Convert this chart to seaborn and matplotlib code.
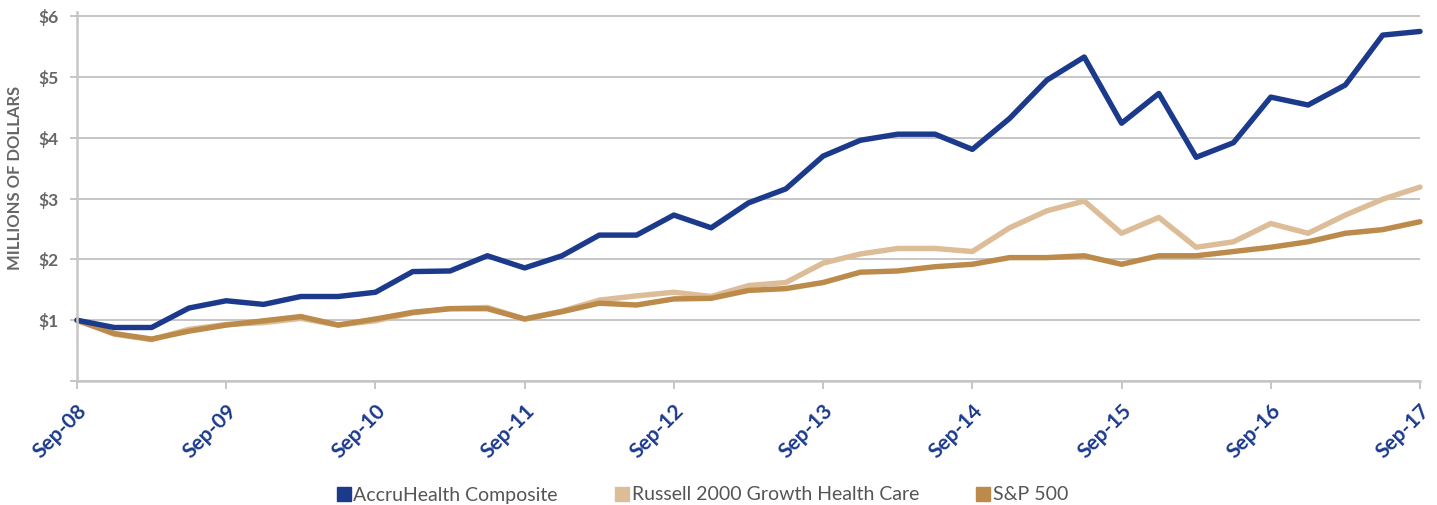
import numpy as np
import pandas as pd
import matplotlib
matplotlib.use("Agg")
import matplotlib.pyplot as plt
from matplotlib.lines import Line2D
import seaborn as sns

# Growth of $1 million, quarterly from Sep-08 to Sep-17 (values in $ millions)
tick_labels = ["Sep-08", "Sep-09", "Sep-10", "Sep-11", "Sep-12",
               "Sep-13", "Sep-14", "Sep-15", "Sep-16", "Sep-17"]
series_names = ["AccruHealth Composite", "Russell 2000 Growth Health Care", "S&P 500"]

accruhealth = [1.00, 0.88, 0.88, 1.20, 1.32, 1.26, 1.39, 1.39, 1.46, 1.80,
               1.81, 2.06, 1.86, 2.06, 2.40, 2.40, 2.73, 2.52, 2.93, 3.16,
               3.70, 3.96, 4.06, 4.06, 3.81, 4.32, 4.95, 5.33, 4.24, 4.73,
               3.68, 3.92, 4.67, 4.54, 4.87, 5.69, 5.75]
russell = [1.00, 0.77, 0.68, 0.85, 0.93, 0.96, 1.03, 0.92, 0.99, 1.12,
           1.19, 1.21, 1.02, 1.15, 1.33, 1.40, 1.46, 1.39, 1.57, 1.62,
           1.94, 2.09, 2.18, 2.18, 2.13, 2.52, 2.80, 2.96, 2.43, 2.69,
           2.20, 2.29, 2.59, 2.43, 2.73, 2.99, 3.19]
sp500 = [1.00, 0.78, 0.69, 0.82, 0.92, 0.99, 1.06, 0.92, 1.02, 1.13,
         1.19, 1.19, 1.02, 1.14, 1.28, 1.25, 1.35, 1.36, 1.49, 1.52,
         1.62, 1.79, 1.81, 1.88, 1.92, 2.03, 2.03, 2.06, 1.92, 2.06,
         2.06, 2.13, 2.20, 2.29, 2.43, 2.49, 2.62]

colors = ["#1C3A8C", "#DCBD98", "#BC8A4A"]
grid_gray = "#C6C6C6"
text_gray = "#666666"
navy = "#1C3A8C"

quarter = np.arange(len(accruhealth))
df = pd.DataFrame({
    "quarter": np.tile(quarter, 3),
    "value": accruhealth + russell + sp500,
    "series": np.repeat(series_names, len(quarter)),
})

sns.set_theme(style="white")
plt.rcParams["font.family"] = ["Lato", "DejaVu Sans"]

fig = plt.figure(figsize=(14.37, 5.05), dpi=100)
ax = fig.add_axes([77 / 1437, 124 / 505, 1343 / 1437, 369 / 505])

sns.lineplot(data=df, x="quarter", y="value", hue="series", hue_order=series_names,
             palette=colors, linewidth=3.9, legend=False, ax=ax)

# Blue composite on top, S&P over Russell
for line, z in zip(ax.lines, [2.3, 2.1, 2.2]):
    line.set_zorder(z)
    line.set_solid_capstyle("round")
    line.set_solid_joinstyle("round")
    line.set_clip_on(False)

ax.set_xlim(0, 36)
ax.set_ylim(0, 6.07)

ax.set_yticks(range(0, 7))
ax.set_yticklabels([""] + [f"\\${v}" for v in range(1, 7)],
                   color=text_gray, fontsize=12.5, fontweight="bold")
ax.set_xticks(quarter[::4])
ax.set_xticklabels(tick_labels, rotation=45, ha="right", va="top",
                   rotation_mode="anchor", color=navy, fontsize=15, fontweight="bold")

ax.yaxis.grid(True, color=grid_gray, linewidth=1.4)
ax.xaxis.grid(False)
ax.set_axisbelow(True)

for side in ["top", "right"]:
    ax.spines[side].set_visible(False)
for side in ["left", "bottom"]:
    ax.spines[side].set_color(grid_gray)
    ax.spines[side].set_linewidth(1.8)

ax.tick_params(axis="y", left=True, length=5, width=1.4, color=grid_gray, pad=8)
ax.tick_params(axis="x", bottom=True, length=6, width=1.4, color=grid_gray, pad=8)

ax.set_xlabel("")
ax.set_ylabel("MILLIONS OF DOLLARS", color=text_gray, fontsize=12, fontweight="bold")
ax.yaxis.set_label_coords(-0.040, 0.55)

handles = [Line2D([], [], marker="s", linestyle="none", markersize=9.5, color=c)
           for c in colors]
fig.legend(handles, series_names, loc="center", bbox_to_anchor=(702 / 1437, 10 / 505),
           ncol=3, frameon=False, fontsize=14, handletextpad=0.1,
           columnspacing=2.9, labelcolor="#555555", handlelength=0.8)

fig.savefig("out.png", dpi=100)
